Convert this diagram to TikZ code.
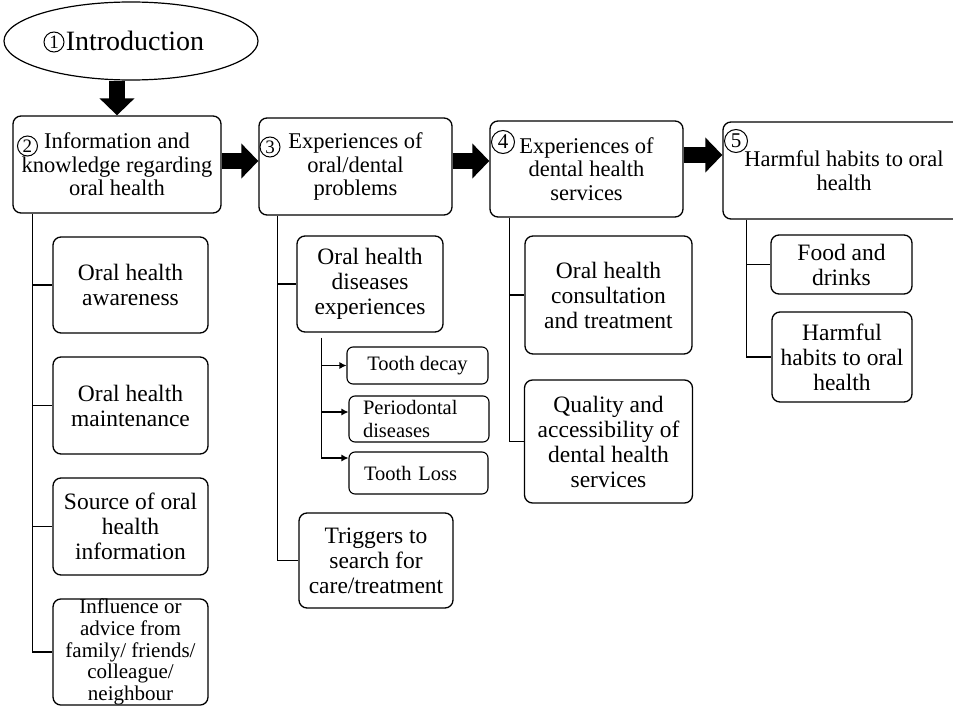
\documentclass[tikz,border=0pt]{standalone}
\usepackage{fontspec}
\setmainfont{Liberation Serif}
\usetikzlibrary{shapes.geometric,arrows.meta}
\tikzset{
  hbox/.style={draw, line width=1.3pt, rounded corners=8pt, align=center, inner sep=0pt, font=\fontsize{22.5}{23.5}\selectfont},
  cbox/.style={draw, line width=1.3pt, rounded corners=8pt, align=center, inner sep=0pt, font=\fontsize{23.5}{25}\selectfont},
  tbox/.style={draw, line width=1.1pt, rounded corners=6pt, inner sep=0pt, font=\fontsize{20.5}{23}\selectfont},
  conn/.style={line width=1.2pt},
  smallarrow/.style={line width=1.1pt, -{Latex[length=7pt,width=7pt]}},
  bigarrow/.style={line width=16pt, -{Triangle[length=17pt,width=34pt]}},
  cnum/.style={circle, draw, line width=1pt, inner sep=0pt, font=\fontsize{19}{19}\selectfont},
}
\begin{document}
\begin{tikzpicture}[x=1pt,y=-1pt]
\useasboundingbox (0,0) rectangle (953,706);

% introduction
\node[ellipse, draw, line width=1.2pt, minimum width=254pt, minimum height=78pt, inner sep=0pt,
      font=\fontsize{28}{28}\selectfont] (intro) at (131,41) {\hspace*{8pt}Introduction};
\node[cnum, minimum size=20pt] (n1) at (54,42) {1};

% header boxes
\node[hbox, minimum width=208pt, minimum height=97pt] (b2) at (117,164.5) {Information and\\knowledge regarding\\oral health};
\node[cnum, minimum size=20pt] (n2) at (27.5,146) {2};
\node[hbox, minimum width=193pt, minimum height=97pt] (b3) at (355.5,166.5) {Experiences of\\oral/dental\\problems};
\node[cnum, minimum size=20pt] (n3) at (270,147) {3};
\node[hbox, minimum width=193pt, minimum height=96pt] (b4) at (586.5,169) {Experiences of\\dental health\\services};
\node[cnum, minimum size=23pt, font=\fontsize{21}{21}\selectfont] (n4) at (503,142) {4};
\node[hbox, minimum width=242pt, minimum height=97pt] (b5) at (844,170.5) {Harmful habits to oral\\health};
\node[cnum, minimum size=23pt, font=\fontsize{21}{21}\selectfont] (n5) at (736,141) {5};

% big arrows
\draw[bigarrow] (intro.south -| b2.north) -- (b2.north);
\draw[bigarrow] ([yshift=3.5pt]b2.east) -- ([yshift=3.5pt]b2.east -| b3.west);
\draw[bigarrow] ([yshift=5.5pt]b3.east) -- ([yshift=5.5pt]b3.east -| b4.west);
\draw[bigarrow] ([yshift=14pt]b4.east) -- ([yshift=14pt]b4.east -| b5.west);

% column 1
\node[cbox, minimum width=155pt, minimum height=96pt] (a) at (130.5,285) {Oral health\\awareness};
\node[cbox, minimum width=155pt, minimum height=97pt] (b) at (130.5,405.5) {Oral health\\maintenance};
\node[cbox, minimum width=155pt, minimum height=97pt] (c) at (130.5,526.5) {Source of oral\\health\\information};
\node[cbox, minimum width=155pt, minimum height=106pt, font=\fontsize{21}{21.7}\selectfont] (d) at (130.5,652) {Influence or\\advice from\\family/ friends/\\colleague/\\neighbour};
\coordinate (t2) at ([xshift=20pt]b2.south west);
\draw[conn] (t2) |- (d.west);
\draw[conn] (t2 |- a.west) -- (a.west);
\draw[conn] (t2 |- b.west) -- (b.west);
\draw[conn] (t2 |- c.west) -- (c.west);

% column 2
\node[cbox, minimum width=146pt, minimum height=96pt] (e) at (370,284) {Oral health\\diseases\\experiences};
\node[cbox, minimum width=154pt, minimum height=95pt] (f) at (376,560.5) {Triggers to\\search for\\care/treatment};
\node[tbox, align=center, minimum width=141pt, minimum height=37pt] (td) at (417.5,365.5) {Tooth decay};
\node[tbox, align=left, text width=112pt, inner xsep=14pt, minimum height=46pt] (pd) at (419,419) {Periodontal\\diseases};
\node[tbox, align=left, text width=109pt, inner xsep=15pt, minimum height=42pt] (tl) at (418.5,473) {Tooth Loss};
\coordinate (t3) at ([xshift=19pt]b3.south west);
\draw[conn] (t3) |- (f.west);
\draw[conn] (t3 |- e.west) -- (e.west);
\coordinate (st) at ([xshift=25pt,yshift=-5pt]e.south west);
\coordinate (pdp) at ([yshift=7pt]pd.west);
\coordinate (tlp) at ([yshift=15pt]tl.west);
\draw[conn] (st) -- (st |- tlp);
\draw[smallarrow] (st |- td.west) -- (td.west);
\draw[smallarrow] (st |- pdp) -- (pdp);
\draw[smallarrow] (st |- tlp) -- (tlp);

% column 3
\node[cbox, minimum width=167pt, minimum height=118pt] (g) at (608.5,295) {Oral health\\consultation\\and treatment};
\node[cbox, minimum width=168pt, minimum height=123pt] (h) at (608.5,441.5) {Quality and\\accessibility of\\dental health\\services};
\coordinate (t4) at ([xshift=20pt]b4.south west);
\draw[conn] (t4) |- (h.west);
\draw[conn] (t4 |- g.west) -- (g.west);

% column 4
\node[cbox, minimum width=141pt, minimum height=59pt] (i) at (841.5,264.5) {Food and\\drinks};
\node[cbox, minimum width=140pt, minimum height=90pt] (j) at (842,357) {Harmful\\habits to oral\\health};
\coordinate (t5) at ([xshift=24pt]b5.south west);
\draw[conn] (t5) |- (j.west);
\draw[conn] (t5 |- i.west) -- (i.west);
\end{tikzpicture}
\end{document}
